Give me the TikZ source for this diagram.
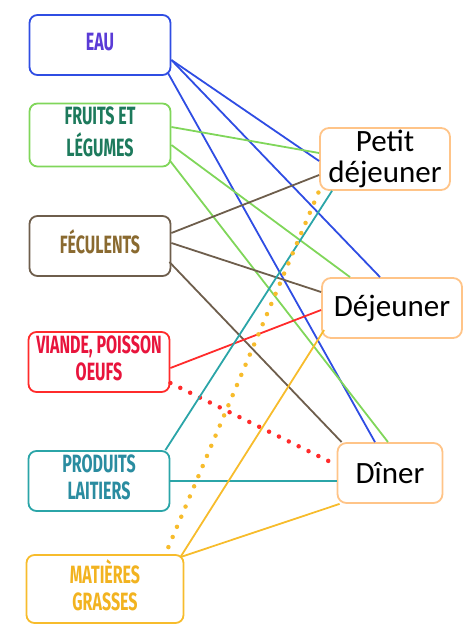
\documentclass[tikz,border=0pt]{standalone}
\usepackage{graphicx}
\usepackage{fontspec}
\setmainfont{Carlito}
\newfontfamily\bebas{Fira Sans}
\newcommand{\foodtext}[1]{\scalebox{0.64}[1]{\begin{tabular}{@{}c@{}}#1\end{tabular}}}
\definecolor{eaublue}{HTML}{2F4DE3}
\definecolor{eautxt}{HTML}{5A3BD6}
\definecolor{fruitgreen}{HTML}{80D65A}
\definecolor{fruittxt}{HTML}{1D7A5C}
\definecolor{fecbrown}{HTML}{6E5E4C}
\definecolor{fectxt}{HTML}{8A6A30}
\definecolor{vianred}{HTML}{FF2B2B}
\definecolor{viantxt}{HTML}{E8143C}
\definecolor{laitteal}{HTML}{2BA5A8}
\definecolor{laittxt}{HTML}{2A8CA0}
\definecolor{grasyellow}{HTML}{F7BC2C}
\definecolor{grastxt}{HTML}{F2B320}
\definecolor{mealorange}{HTML}{FFC488}

\begin{document}
\begin{tikzpicture}[x=1pt, y=-1pt, line width=1.8pt,
  food/.style={draw, rounded corners=8pt, line width=1.8pt, minimum width=141pt, minimum height=60pt, inner sep=2pt, font=\fontsize{25}{27}\selectfont\bebas\bfseries},
  meal/.style={draw=mealorange, rounded corners=9pt, line width=1.8pt, minimum height=62pt, align=center, inner sep=2pt, font=\fontsize{31}{31}\selectfont},
  dots/.style={line width=4.5pt, line cap=round, dash pattern=on 0pt off 11pt}]
    \useasboundingbox (0,0) rectangle (464,634);

    % Nodes
    \node[food, draw=eaublue, text=eautxt] (eau) at (100,45) {\foodtext{EAU}};
    \node[food, draw=fruitgreen, text=fruittxt] (fruits) at (100,135) {\foodtext{FRUITS ET\\LÉGUMES}};
    \node[food, draw=fecbrown, text=fectxt] (fec) at (100,246) {\foodtext{FÉCULENTS}};
    \node[food, draw=vianred, text=viantxt] (viande) at (99,362) {\foodtext{VIANDE, POISSON\\OEUFS}};
    \node[food, draw=laitteal, text=laittxt] (lait) at (99,481) {\foodtext{PRODUITS\\LAITIERS}};
    \node[food, draw=grasyellow, text=grastxt, minimum width=157pt, minimum height=68pt] (gras) at (105,589) {\foodtext{MATIÈRES\\GRASSES}};

    \node[meal, minimum width=130pt] (petit) at (385,159) {Petit\\déjeuner};
    \node[meal, minimum width=140pt, minimum height=60pt] (dej) at (392,308) {Déjeuner};
    \node[meal, minimum width=105pt, minimum height=60pt] (diner) at (390,473) {Dîner};

    % Edges
    \draw[eaublue] ([yshift=-15]eau.east) -- ([yshift=-2]petit.west);
    \draw[eaublue] ([yshift=-15]eau.east) -- ([xshift=-12]dej.north);
    \draw[eaublue] ([xshift=-4,yshift=-27]eau.east) -- ([xshift=-15]diner.north);

    \draw[fruitgreen] ([yshift=8]fruits.east) -- ([yshift=6]petit.west);
    \draw[fruitgreen] ([yshift=-10]fruits.east) -- ([xshift=-42]dej.north);
    \draw[fruitgreen] ([xshift=-2,yshift=-25]fruits.east) -- ([xshift=-2]diner.north);

    \draw[fecbrown] ([yshift=13]fec.east) -- ([yshift=-16]petit.west);
    \draw[fecbrown] ([yshift=3]fec.east) -- ([yshift=16]dej.west);
    \draw[fecbrown] ([xshift=-2,yshift=-16]fec.east) -- ([xshift=5]diner.north west);

    \draw[vianred] ([yshift=-6]viande.east) -- ([yshift=-2]dej.west);
    \draw[vianred, dots] ([yshift=-21]viande.east) -- ([yshift=8]diner.west);

    \draw[laitteal] ([xshift=-5]lait.north east) -- ([xshift=-53]petit.south);
    \draw[laitteal] (lait.east) -- ([yshift=-8]diner.west);

    \draw[grasyellow, dots] ([xshift=-16,yshift=7]gras.north east) -- (petit.south west);
    \draw[grasyellow] ([xshift=-4,yshift=-3]gras.north east) -- ([xshift=3,yshift=-22]dej.west);
    \draw[grasyellow] ([xshift=-4,yshift=-3]gras.north east) -- ([xshift=3]diner.south west);

\end{tikzpicture}
\end{document}
